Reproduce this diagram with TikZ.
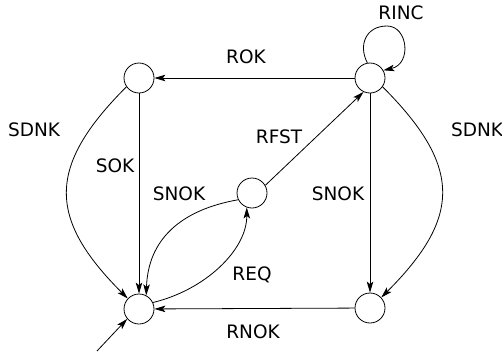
\documentclass[tikz,border=0pt]{standalone}
\usepackage{fontspec}
\setmainfont{DejaVu Sans}
\usetikzlibrary{arrows.meta}
\begin{document}
\begin{tikzpicture}[x=1pt,y=-1pt,
  state/.style={circle,draw,line width=0.8pt,minimum size=30pt,inner sep=0pt},
  lbl/.style={inner sep=0pt,font=\fontsize{18.5}{20}\selectfont},
  edge/.style={line width=0.8pt,-{Stealth[length=11pt,width=6.5pt,inset=2.5pt]}}]
\useasboundingbox (0,0) rectangle (502,354);
\node[state] (A) at (139,78) {};
\node[state] (B) at (370,78) {};
\node[state] (C) at (252,193) {};
\node[state] (D) at (139,309) {};
\node[state] (E) at (370,308) {};
\coordinate (S) at (97,351);
% labels
\node[lbl] (lROK) at (246,57) {ROK};
\node[lbl] (lSDNKl) at (34,130) {SDNK};
\node[lbl] (lSOK) at (115,166) {SOK};
\node[lbl] (lRINC) at (401,13) {RINC};
\node[lbl] (lSDNKr) at (477,130) {SDNK};
\node[lbl] (lRFST) at (279,137) {RFST};
\node[lbl] (lSNOKl) at (179,194) {SNOK};
\node[lbl] (lSNOKr) at (338,194) {SNOK};
\node[lbl] (lREQ) at (252,275) {REQ};
\node[lbl] (lRNOK) at (253,332) {RNOK};
% edges
\draw[edge] (B) -- (A);
\draw[edge] (A) -- (D);
\draw[edge] (B) -- (E);
\draw[edge] (E) -- (D);
\draw[edge] (C.30) -- (B.245);
\draw[edge] (A.215) .. controls +(-80,80) and +(-80,-80) .. (D.137);
\draw[edge] (B.325) .. controls +(80,80) and +(80,-80) .. (E.43);
\draw[edge] (C.206) .. controls (180,210) and (148,240) .. (D.62);
\draw[edge] (D.25) .. controls (205,290) and (247,250) .. (C.250);
\draw[edge] (B.100) .. controls (358,45) and (366,26) .. (387,26)
  .. controls (408,26) and (412,64) .. (B.30);
\draw[edge] (S) -- (D.220);
\end{tikzpicture}
\end{document}
